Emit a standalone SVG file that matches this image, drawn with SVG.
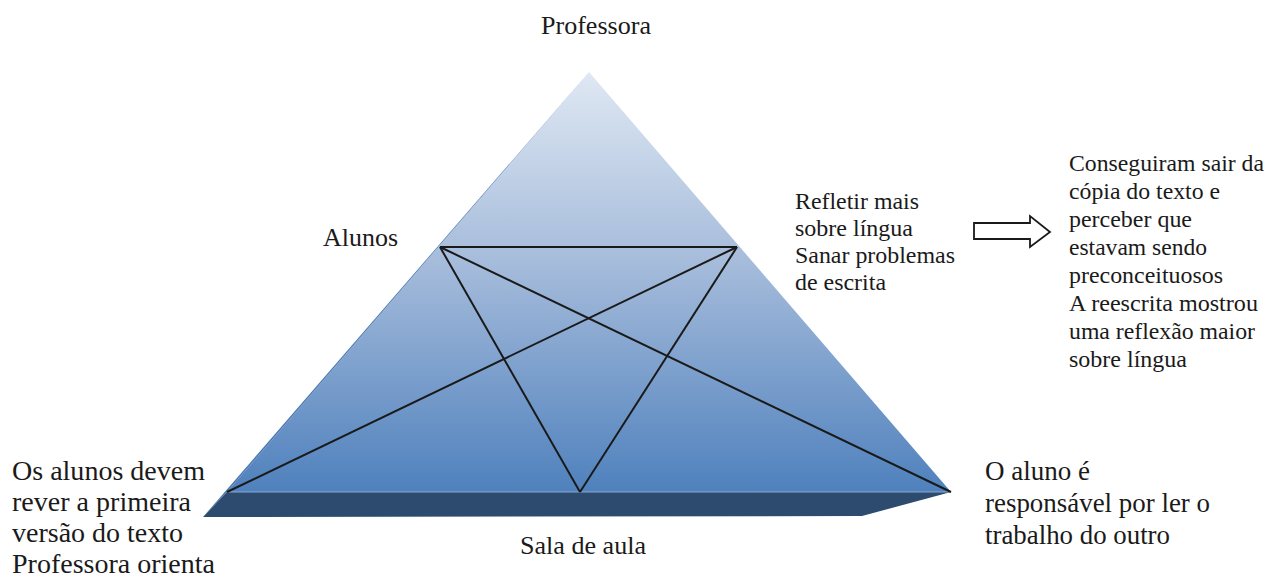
<svg xmlns="http://www.w3.org/2000/svg" width="1271" height="577" viewBox="0 0 1271 577">
<style>
text{font-family:'Liberation Serif','Times New Roman',serif;fill:#1a1a1a}
.s24{font-size:24px}
.s26{font-size:26px}
.s27{font-size:27px}
.s28{font-size:28px}
</style>
<defs>
<linearGradient id="g" x1="0" y1="72" x2="0" y2="492" gradientUnits="userSpaceOnUse">
<stop offset="0" stop-color="#dfe8f3"/>
<stop offset="0.45" stop-color="#a6bcdb"/>
<stop offset="1" stop-color="#4f81bd"/>
</linearGradient>
</defs>
<g id="pyramid">
<polygon points="589,72 227,492 951,492" fill="url(#g)"/>
<polygon points="589,72 203,517 227,492" fill="#4a78b2"/>
<polygon points="203,517 227,492 951,492 862,516" fill="#2d4b6f"/>
<line x1="227" y1="492" x2="951" y2="492" stroke="#8aa7cf" stroke-width="1"/>
</g>
<g id="connectors" stroke="#1a1a1a" stroke-width="2" fill="none">
<line x1="440" y1="247" x2="737" y2="247"/>
<line x1="440" y1="247" x2="951" y2="492"/>
<line x1="440" y1="247" x2="580" y2="492"/>
<line x1="737" y1="247" x2="227" y2="492"/>
<line x1="737" y1="247" x2="580" y2="492"/>
</g>
<g id="arrow">
<polygon points="974,223 1030,223 1030,216 1050,232 1030,247 1030,239 974,239" fill="#fff" stroke="#1a1a1a" stroke-width="1.8"/>
</g>
<g id="label-professora"><text class="s26" x="541" y="34" textLength="110" lengthAdjust="spacingAndGlyphs">Professora</text></g>
<g id="label-alunos"><text class="s26" x="323" y="246" textLength="75" lengthAdjust="spacingAndGlyphs">Alunos</text></g>
<g id="label-refletir">
<text class="s24" x="795" y="209" textLength="124" lengthAdjust="spacingAndGlyphs">Refletir mais</text>
<text class="s24" x="795" y="236" textLength="118" lengthAdjust="spacingAndGlyphs">sobre língua</text>
<text class="s24" x="795" y="263" textLength="160" lengthAdjust="spacingAndGlyphs">Sanar problemas</text>
<text class="s24" x="795" y="290" textLength="91" lengthAdjust="spacingAndGlyphs">de escrita</text>
</g>
<g id="label-conseguiram">
<text class="s24" x="1069" y="171" textLength="195" lengthAdjust="spacingAndGlyphs">Conseguiram sair da</text>
<text class="s24" x="1069" y="199" textLength="151" lengthAdjust="spacingAndGlyphs">cópia do texto e</text>
<text class="s24" x="1069" y="227" textLength="123" lengthAdjust="spacingAndGlyphs">perceber que</text>
<text class="s24" x="1069" y="255" textLength="138" lengthAdjust="spacingAndGlyphs">estavam sendo</text>
<text class="s24" x="1069" y="283" textLength="154" lengthAdjust="spacingAndGlyphs">preconceituosos</text>
<text class="s24" x="1069" y="311" textLength="189" lengthAdjust="spacingAndGlyphs">A reescrita mostrou</text>
<text class="s24" x="1069" y="339" textLength="186" lengthAdjust="spacingAndGlyphs">uma reflexão maior</text>
<text class="s24" x="1069" y="367" textLength="118" lengthAdjust="spacingAndGlyphs">sobre língua</text>
</g>
<g id="label-osalunos">
<text class="s28" x="12" y="480" textLength="193" lengthAdjust="spacingAndGlyphs">Os alunos devem</text>
<text class="s28" x="12" y="511" textLength="179" lengthAdjust="spacingAndGlyphs">rever a primeira</text>
<text class="s28" x="12" y="542" textLength="171" lengthAdjust="spacingAndGlyphs">versão do texto</text>
<text class="s28" x="12" y="573" textLength="203" lengthAdjust="spacingAndGlyphs">Professora orienta</text>
</g>
<g id="label-oaluno">
<text class="s27" x="985" y="480" textLength="105" lengthAdjust="spacingAndGlyphs">O aluno é</text>
<text class="s27" x="985" y="512" textLength="225" lengthAdjust="spacingAndGlyphs">responsável por ler o</text>
<text class="s27" x="985" y="544" textLength="185" lengthAdjust="spacingAndGlyphs">trabalho do outro</text>
</g>
<g id="label-sala"><text class="s26" x="520" y="554" textLength="126" lengthAdjust="spacingAndGlyphs">Sala de aula</text></g>
</svg>
